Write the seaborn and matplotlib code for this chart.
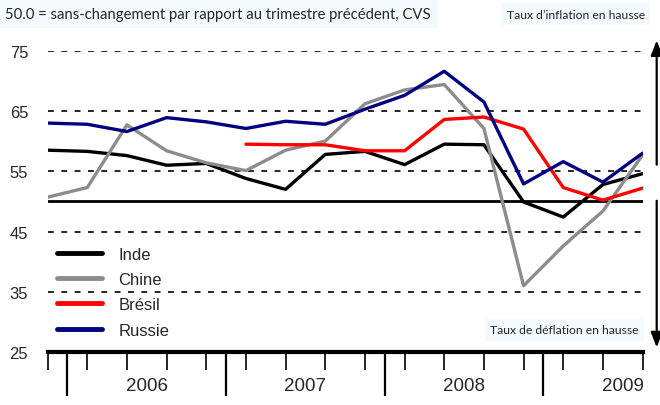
import numpy as np
import pandas as pd
import matplotlib
matplotlib.use("Agg")
import matplotlib.pyplot as plt
from matplotlib.lines import Line2D
from matplotlib.patches import FancyArrowPatch
import seaborn as sns

# Quarterly index, 2005 Q4 .. 2009 Q3
quarters = ["2005T4", "2006T1", "2006T2", "2006T3", "2006T4",
            "2007T1", "2007T2", "2007T3", "2007T4",
            "2008T1", "2008T2", "2008T3", "2008T4",
            "2009T1", "2009T2", "2009T3"]
inde = [58.5, 58.3, 57.6, 56.0, 56.3, 53.8, 52.0, 57.8, 58.3, 56.1, 59.5, 59.4, 49.9, 47.4, 52.8, 54.6]
chine = [50.7, 52.3, 62.7, 58.4, 56.4, 55.1, 58.5, 60.0, 66.2, 68.5, 69.4, 62.1, 36.0, 42.6, 48.4, 57.7]
bresil = [np.nan, np.nan, np.nan, np.nan, np.nan, 59.5, 59.4, 59.4, 58.4, 58.4, 63.6, 64.0, 62.0, 52.3, 50.2, 52.2]
russie = [63.0, 62.8, 61.6, 63.9, 63.2, 62.1, 63.3, 62.8, 65.3, 67.6, 71.6, 66.5, 52.9, 56.6, 53.2, 58.0]

series_names = ["Inde", "Chine", "Brésil", "Russie"]
series_colors = ["#000000", "#8c8c8c", "#ff0000", "#000080"]
years = ["2006", "2007", "2008", "2009"]
grid_levels = [35, 45, 55, 65, 75]

df = pd.DataFrame({"q": range(len(quarters)), "Inde": inde, "Chine": chine,
                   "Brésil": bresil, "Russie": russie})
long = df.melt(id_vars="q", var_name="pays", value_name="indice").dropna()

sns.set_style("white")
plt.rcParams["font.family"] = ["Liberation Sans", "DejaVu Sans"]

fig = plt.figure(figsize=(6.6, 4.06), dpi=100)
ax = fig.add_axes([0.0721, 0.1305, 0.9015, 0.742])

# dashed reference levels and the neutral 50 line
for lv in grid_levels:
    ax.axhline(lv, color="black", lw=1.2, ls=(0, (3.5, 4.5)), zorder=1)
ax.axhline(50, color="black", lw=2.0, zorder=1)

sns.lineplot(data=long, x="q", y="indice", hue="pays", hue_order=series_names,
             palette=series_colors, lw=2.4, legend=False, ax=ax, zorder=3)

ax.set_xlim(0, len(quarters) - 1)
ax.set_ylim(25, 75)
ax.set_yticks([25, 35, 45, 55, 65, 75])
ax.set_yticklabels(["25", "35", "45", "55", "65", "75"], fontsize=12)
ax.tick_params(axis="y", length=0, pad=14)
ax.set_xlabel("")
ax.set_ylabel("")
for s in ["top", "right", "left"]:
    ax.spines[s].set_visible(False)
ax.spines["bottom"].set_linewidth(3)
ax.spines["bottom"].set_color("black")

# quarter ticks (short) and year boundaries (long)
ax.set_xticks(range(len(quarters)))
ax.set_xticklabels([])
ax.set_xticks([0.5, 4.5, 8.5, 12.5], minor=True)
ax.tick_params(axis="x", which="both", bottom=True, direction="out", color="black")
ax.tick_params(axis="x", which="major", length=13, width=1.2)
ax.tick_params(axis="x", which="minor", length=32, width=1.6)
for i, y in enumerate(years):
    ax.text(2.5 + 4 * i, -0.11, y, transform=ax.get_xaxis_transform(),
            ha="center", va="center", fontsize=13.5)

handles = [Line2D([0], [0], color=c, lw=3.5) for c in series_colors]
ax.legend(handles, series_names, loc="upper left", bbox_to_anchor=(-0.01, 0.40),
          frameon=False, fontsize=12, handlelength=2.7, handletextpad=1.0,
          labelspacing=0.62)

# header notes
box = dict(boxstyle="square,pad=0.45", fc="#f3f9fc", ec="none")
fig.text(0.008, 0.963, "50.0 = sans-changement par rapport au trimestre précédent, CVS",
         family=["Lato", "DejaVu Sans"], fontsize=10.7, va="center", ha="left", bbox=box)
fig.text(0.977, 0.963, "Taux d\u2019inflation en hausse", family=["Lato", "DejaVu Sans"],
         fontsize=8.7, va="center", ha="right", bbox=box)
fig.text(0.968, 0.185, "Taux de déflation en hausse", family=["Lato", "DejaVu Sans"],
         fontsize=8.7, va="center", ha="right", bbox=box)

# direction arrows on the right edge
for y0, y1 in [(0.585, 0.905), (0.51, 0.135)]:
    fig.add_artist(FancyArrowPatch((0.995, y0), (0.995, y1), transform=fig.transFigure,
                                   arrowstyle="-|>,head_length=9,head_width=3.5",
                                   color="black", lw=1.6))

fig.savefig("out.png", dpi=100)
